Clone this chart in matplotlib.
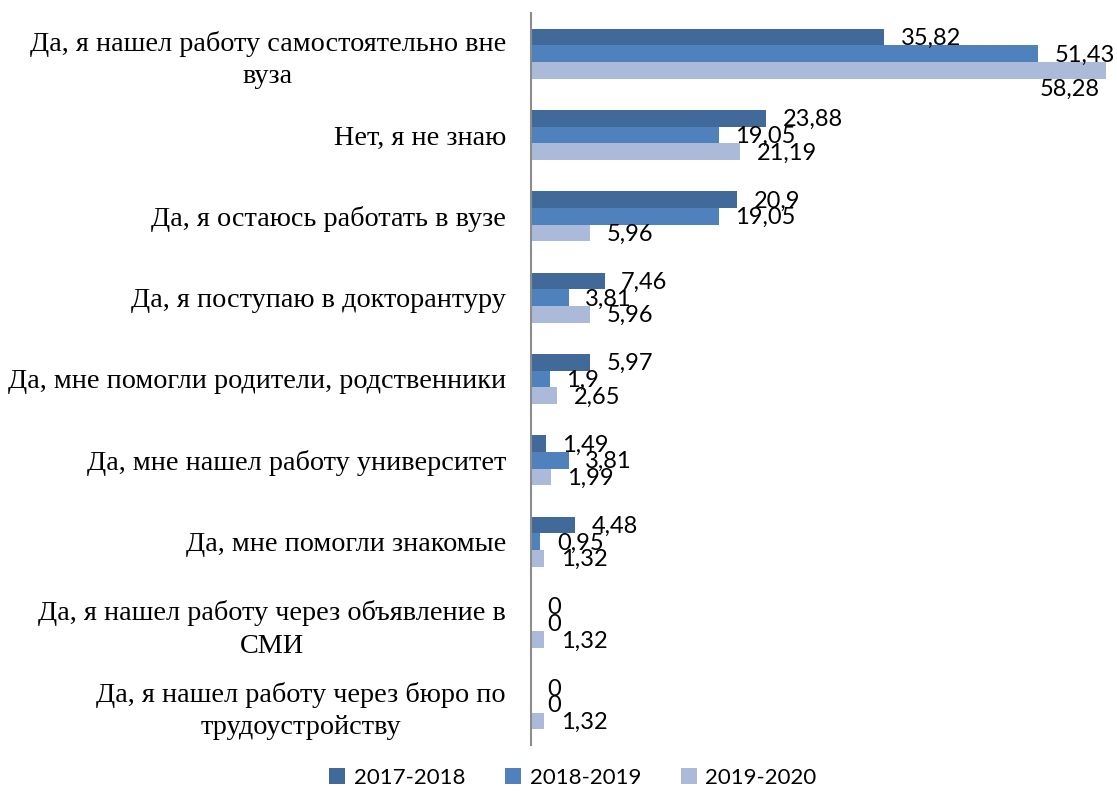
import matplotlib
matplotlib.use("Agg")
import matplotlib.pyplot as plt
import numpy as np

categories = [
    "Да, я нашел работу самостоятельно вне\nвуза",
    "Нет, я не знаю",
    "Да, я остаюсь работать в вузе",
    "Да, я поступаю в докторантуру",
    "Да, мне помогли родители, родственники",
    "Да, мне нашел работу университет",
    "Да, мне помогли знакомые",
    "Да, я нашел работу через объявление в\nСМИ",
    "Да, я нашел работу через бюро по\nтрудоустройству",
]
series_names = ["2017-2018", "2018-2019", "2019-2020"]
v2017 = [35.82, 23.88, 20.9, 7.46, 5.97, 1.49, 4.48, 0, 0]
v2018 = [51.43, 19.05, 19.05, 3.81, 1.9, 3.81, 0.95, 0, 0]
v2020 = [58.28, 21.19, 5.96, 5.96, 2.65, 1.99, 1.32, 1.32, 1.32]
colors = ["#41699A", "#4F81BD", "#AABAD8"]

fig = plt.figure(figsize=(11.17, 7.91), dpi=100)
ax = fig.add_axes([531/1117, 1-745/791, 1-531/1117, (745-13)/791])

y = np.arange(len(categories))
h = 0.205
offsets = [-h, 0, h]
vals = [v2017, v2018, v2020]

def fmt(v):
    s = ("%.2f" % v).rstrip("0").rstrip(".")
    return s.replace(".", ",")

xmax = 59.43
for i, (vs, c, name) in enumerate(zip(vals, colors, series_names)):
    ax.barh(y + offsets[i], vs, height=h, color=c, label=name, linewidth=0)
    for j, v in enumerate(vs):
        yy = y[j] + offsets[i]
        if v > xmax - 4:
            ax.annotate(fmt(v), (v, yy + h/2), xytext=(-4, 0), textcoords="offset points",
                        ha="right", va="top", fontsize=17, family="Lato")
        else:
            ax.annotate(fmt(v), (v, yy), xytext=(12, -1), textcoords="offset points",
                        ha="left", va="center", fontsize=17, family="Lato")

ax.set_xlim(0, xmax)
ax.set_ylim(len(categories) - 0.5, -0.5)
ax.set_yticks(y)
ax.set_yticklabels(categories, fontsize=20.3, family="Liberation Serif",
                   multialignment="center", linespacing=1.38)
ax.tick_params(axis="y", length=0, pad=18)
ax.set_xticks([])
for s in ["top", "right", "bottom"]:
    ax.spines[s].set_visible(False)
ax.spines["left"].set_color("#8C8C8C")
ax.spines["left"].set_linewidth(1.5)

leg = fig.legend(loc="center", bbox_to_anchor=(573/1117, 1-778/791), ncol=3, frameon=False,
                 prop={"family": "Lato", "size": 16}, handlelength=0.7, handleheight=0.7,
                 columnspacing=1.8, handletextpad=0.4)

fig.savefig("out.png", dpi=100)
